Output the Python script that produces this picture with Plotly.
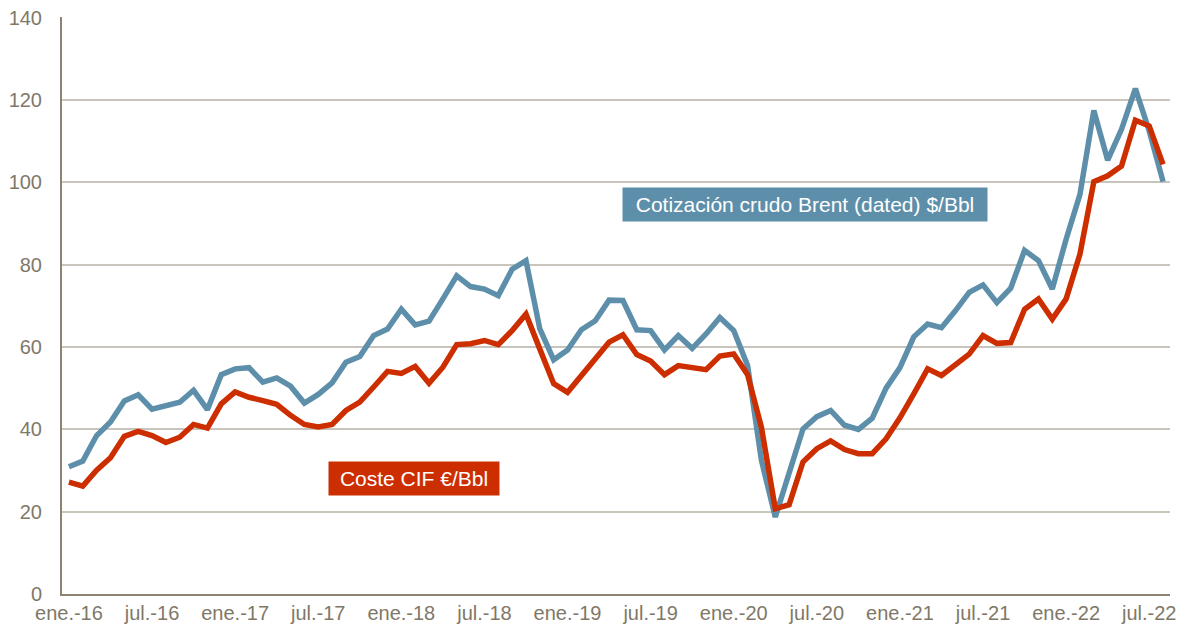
import plotly.graph_objects as go

mes = ["ene.", "feb.", "mar.", "abr.", "may.", "jun.", "jul.", "ago.", "sep.", "oct.", "nov.", "dic."]
months = [f"{mes[m]}-{y}" for y in range(16, 23) for m in range(12)][:80]

brent = [30.9, 32.3, 38.5, 41.8, 46.9, 48.4, 44.9, 45.8, 46.6, 49.5, 44.8, 53.3,
         54.7, 55.0, 51.5, 52.5, 50.5, 46.4, 48.5, 51.3, 56.3, 57.7, 62.8, 64.4,
         69.2, 65.4, 66.3, 71.7, 77.3, 74.7, 74.1, 72.5, 78.9, 81.0, 64.4, 56.9,
         59.3, 64.2, 66.4, 71.4, 71.3, 64.2, 64.0, 59.3, 62.8, 59.7, 63.2, 67.2,
         64.0, 55.5, 32.5, 18.7, 29.2, 40.1, 43.1, 44.6, 41.0, 40.0, 42.7, 50.0,
         55.0, 62.5, 65.6, 64.7, 68.8, 73.3, 75.1, 70.8, 74.3, 83.5, 81.0, 74.1,
         86.2, 97.1, 117.5, 105.4, 112.9, 122.8, 112.5, 100.2]

cif = [27.2, 26.2, 30.1, 33.1, 38.3, 39.5, 38.5, 36.8, 38.1, 41.2, 40.3, 46.2,
       49.1, 47.8, 47.0, 46.1, 43.4, 41.2, 40.6, 41.2, 44.6, 46.6, 50.3, 54.1,
       53.6, 55.3, 51.2, 55.1, 60.6, 60.8, 61.6, 60.6, 64.0, 68.0, 59.5, 51.1,
       49.0, 53.1, 57.1, 61.2, 63.0, 58.2, 56.6, 53.3, 55.5, 54.9, 54.5, 57.8,
       58.3, 53.3, 40.5, 20.7, 21.7, 32.1, 35.3, 37.2, 35.1, 34.1, 34.1, 37.7,
       42.8, 48.6, 54.7, 53.1, 55.5, 58.3, 62.8, 60.9, 61.1, 69.2, 71.7, 66.8,
       71.7, 82.6, 100.2, 101.6, 104.0, 115.1, 113.7, 104.4]

tick_labels = months[::6]
y_ticks = [0, 20, 40, 60, 80, 100, 120, 140]

BLUE = "#5E8FAA"
RED = "#CC2E00"
GREY = "#7F7868"
FONT = "Liberation Sans, Arial, sans-serif"

fig = go.Figure()
fig.add_trace(go.Scatter(x=months, y=brent, mode="lines",
                         line=dict(color=BLUE, width=5.5), name="Brent"))
fig.add_trace(go.Scatter(x=months, y=cif, mode="lines",
                         line=dict(color=RED, width=5.5), name="CIF"))

fig.update_layout(
    width=1179, height=625,
    margin=dict(l=54, r=17, t=9, b=39),
    paper_bgcolor="white", plot_bgcolor="white",
    showlegend=False,
    font=dict(family=FONT, size=20, color=GREY),
    xaxis=dict(type="category", categoryorder="array", categoryarray=months,
               range=[-0.5, 79.5], tickmode="array", tickvals=tick_labels,
               ticktext=tick_labels, showgrid=False, showline=True,
               linecolor="#8C8470", linewidth=2, ticks="", zeroline=False,
               automargin=False, tickfont=dict(size=20, color=GREY)),
    yaxis=dict(range=[0, 140.2], tickmode="array", tickvals=y_ticks,
               showgrid=True, gridcolor="#C9C5BD", gridwidth=1.5,
               showline=True, linecolor="#8C8470", linewidth=2,
               ticks="", zeroline=False, ticklabelstandoff=14,
               ticklabeloverflow="allow",
               automargin=False, tickfont=dict(size=20, color=GREY)),
    annotations=[
        dict(text="Cotización crudo Brent (dated) $/Bbl", xref="paper", yref="paper",
             x=0.6706, y=0.675, xanchor="center", yanchor="middle",
             showarrow=False, bgcolor=BLUE, borderpad=5,
             width=354, height=23,
             font=dict(family=FONT, size=21, color="white")),
        dict(text="Coste CIF €/Bbl", xref="paper", yref="paper",
             x=0.3177, y=0.201, xanchor="center", yanchor="middle",
             showarrow=False, bgcolor=RED, borderpad=5,
             width=160, height=23,
             font=dict(family=FONT, size=21, color="white")),
    ],
)

fig.write_html("out.html")
